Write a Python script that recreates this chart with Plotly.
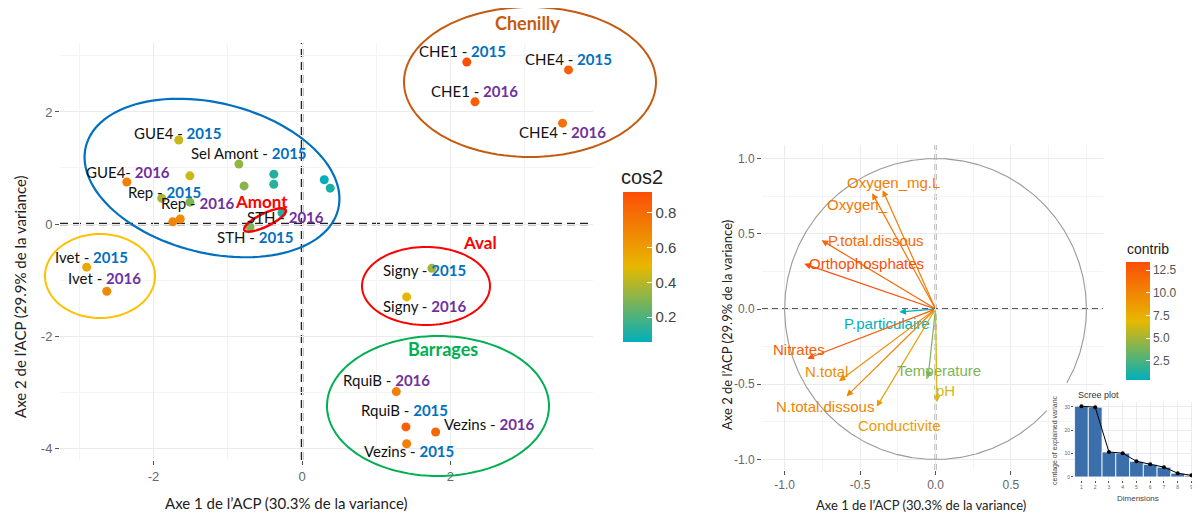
import math
import numpy as np
import plotly.graph_objects as go

W, H = 1200, 514
OFF = 8  # page body margin of the html page

# ---------------- DATA ----------------
# Individuals (left PCA map)
ind_x = [2.22, 3.59, 2.33, 3.51, -1.66, -0.85, -1.51, -2.36, -0.78, -0.38, -0.38, 0.30, 0.38,
         -1.89, -1.51, -1.74, -1.64, -0.27, -0.70, -2.90, -2.63, 1.75, 1.41, 1.27, 1.40, 1.80, 1.41]
ind_y = [2.89, 2.75, 2.18, 1.80, 1.50, 1.07, 0.86, 0.75, 0.68, 0.89, 0.71, 0.79, 0.64,
         0.46, 0.39, 0.04, 0.09, 0.20, -0.05, -0.77, -1.20, -0.79, -1.30, -2.99, -3.62, -3.71, -3.92]
ind_cos2 = [0.92, 0.85, 0.86, 0.78, 0.43, 0.33, 0.44, 0.72, 0.31, 0.12, 0.13, 0.056, 0.10,
            0.37, 0.29, 0.70, 0.68, 0.11, 0.28, 0.55, 0.68, 0.36, 0.50, 0.72, 0.85, 0.82, 0.72]
ind_site = ["CHE1 - ", "CHE4 - ", "CHE1 - ", "CHE4 - ", "GUE4 - ", "Sel Amont - ", "", "GUE4- ", "", "", "", "", "",
            "Rep - ", "Rep - ", "", "", "STH - ", "STH - ", "Ivet - ", "Ivet - ", "Signy - ", "Signy - ",
            "RquiB - ", "RquiB - ", "Vezins - ", "Vezins - "]
ind_year = [2015, 2015, 2016, 2016, 2015, 2015, None, 2016, None, None, None, None, None,
            2015, 2016, None, None, 2016, 2015, 2015, 2016, 2015, 2016, 2016, 2015, 2016, 2015]

# Variables (right correlation circle)
var_names = ["Oxygen_mg.L", "Oxygen_", "P.total.dissous", "Orthophosphates", "P.particulaire", "Nitrates",
             "N.total", "N.total.dissous", "Conductivite", "Temperature", "pH"]
var_x = [-0.35, -0.42, -0.755, -0.87, -0.24, -0.85, -0.64, -0.59, -0.39, -0.05, 0.01]
var_y = [0.79, 0.77, 0.457, 0.30, -0.02, -0.33, -0.48, -0.58, -0.65, -0.46, -0.62]
var_contrib = [10.6, 10.9, 11.8, 13.4, 0.4, 12.6, 9.6, 10.2, 8.6, 3.9, 6.4]

# Scree plot
dims = [1, 2, 3, 4, 5, 6, 7, 8, 9, 10]
explained = [30.3, 29.9, 10.7, 10.2, 6.7, 5.4, 4.2, 1.6, 0.7, 0.3]

# ---------------- STYLE ----------------
YEAR_COL = {2015: "#0070C0", 2016: "#7030A0"}
SCALE = [[0, "#00AFBB"], [0.5, "#E7B800"], [1, "#FC4E07"]]
LABEL_SHIFT = [(-4, 11), (0, 11), (0, 11), (0, -9), (-1, 7), (10, 11), (0, 0), (1, 10), (0, 0), (0, 0),
               (0, 0), (0, 0), (0, 0), (3, 6), (8, -1), (0, 0), (0, 0), (4, -4), (5, -10), (5, 10),
               (-2, 13), (-7, -2), (18, -9), (-10, 12), (-1, 17), (54, 8), (2, -7)]
VAR_SHIFT = [(11, 8), (-15, -11), (54, 0), (62, 0), (-12, -11), (-8, 9), (-12, 10), (-22, -10),
             (23, -19), (11, 8), (8, 12)]

GRID = "#EBEBEB"
GRID_MINOR = "#F4F4F4"
TICKC = "#666666"


def px(x):
    return (x - OFF) / W


def py(y):
    return 1 - (y - OFF) / H


def grad(v, vmin, vmax):
    t = (v - vmin) / (vmax - vmin)
    stops = [(0, (0, 175, 187)), (0.5, (231, 184, 0)), (1, (252, 78, 7))]
    for (t0, c0), (t1, c1) in zip(stops[:-1], stops[1:]):
        if t <= t1:
            f = (t - t0) / (t1 - t0)
            c = [round(a + (b - a) * f) for a, b in zip(c0, c1)]
            return "rgb(%d,%d,%d)" % tuple(c)
    return "rgb(252,78,7)"


def ellipse_path(cx, cy, a, b, deg, n=120):
    th = math.radians(deg)
    pts = []
    for i in range(n + 1):
        t = 2 * math.pi * i / n
        ex, ey = a * math.cos(t), b * math.sin(t)
        X = cx + ex * math.cos(th) - ey * math.sin(th)
        Y = cy + ex * math.sin(th) + ey * math.cos(th)
        pts.append((px(X), py(Y)))
    return "M " + " L ".join("%.5f,%.5f" % p for p in pts) + " Z"


def paper_text(x, y, text, size, color="#222", family="Lato", angle=0, xanchor="center"):
    return dict(x=px(x), y=py(y), xref="paper", yref="paper", showarrow=False, text=text,
                xanchor=xanchor, yanchor="middle", textangle=angle,
                font=dict(family=family, size=size, color=color))


fig = go.Figure()

# ---------- left: individuals ----------
cmin, cmax = min(ind_cos2), max(ind_cos2)
fig.add_trace(go.Scatter(
    x=ind_x, y=ind_y, mode="markers", xaxis="x", yaxis="y",
    marker=dict(size=9, color=ind_cos2, colorscale=SCALE, cmin=cmin, cmax=cmax,
                line=dict(width=0),
                colorbar=dict(x=px(623), xanchor="left", xpad=0, y=py(192), yanchor="top", ypad=0,
                              len=150, lenmode="pixels", thickness=29, thicknessmode="pixels",
                              outlinewidth=0, tickvals=[0.2, 0.4, 0.6, 0.8],
                              ticktext=["0.2", "0.4", "0.6", "0.8"], ticks="inside", ticklen=5,
                              tickcolor="white", tickwidth=1,
                              tickfont=dict(family="Liberation Sans", size=15, color="#444"))),
    showlegend=False, hoverinfo="skip"))

# ---------- right: correlation circle ----------
theta = np.linspace(0, 2 * np.pi, 721)
cxl, cyl = [], []
for a, b in zip(np.cos(theta), np.sin(theta)):
    pxx = 936 + a * 151
    pyy = 309 - b * 151
    if pxx > 1048 and pyy > 384:
        cxl.append(None)
        cyl.append(None)
    else:
        cxl.append(a)
        cyl.append(b)
fig.add_trace(go.Scatter(x=cxl, y=cyl, mode="lines", xaxis="x2", yaxis="y2",
                         line=dict(color="#9A9A9A", width=1.1), showlegend=False, hoverinfo="skip"))

vmin, vmax = min(var_contrib), max(var_contrib)
fig.add_trace(go.Scatter(
    x=var_x, y=var_y, mode="markers", xaxis="x2", yaxis="y2",
    marker=dict(size=0.1, color=var_contrib, colorscale=SCALE, cmin=vmin, cmax=vmax,
                colorbar=dict(x=px(1126), xanchor="left", xpad=0, y=py(262), yanchor="top", ypad=0,
                              len=118, lenmode="pixels", thickness=24, thicknessmode="pixels",
                              outlinewidth=0, tickvals=[2.5, 5, 7.5, 10, 12.5],
                              ticktext=["2.5", "5.0", "7.5", "10.0", "12.5"], ticks="inside", ticklen=4,
                              tickcolor="white", tickwidth=1,
                              tickfont=dict(family="Liberation Sans", size=12, color="#555"))),
    showlegend=False, hoverinfo="skip"))

# ---------- scree plot ----------
fig.add_trace(go.Bar(x=dims, y=explained, xaxis="x3", yaxis="y3", width=1,
                     marker=dict(color="#3B6FAB", line=dict(color="white", width=0.8)),
                     showlegend=False, hoverinfo="skip"))
fig.add_trace(go.Scatter(x=dims, y=explained, xaxis="x3", yaxis="y3", mode="lines+markers",
                         line=dict(color="black", width=1), marker=dict(color="black", size=4),
                         showlegend=False, hoverinfo="skip"))

annotations = []
shapes = []

# labels of individuals
for i in range(len(ind_x)):
    if not ind_site[i]:
        continue
    col = YEAR_COL[ind_year[i]]
    txt = "%s<b><span style='color:%s'>%d</span></b>" % (ind_site[i], col, ind_year[i])
    dx, dy = LABEL_SHIFT[i]
    annotations.append(dict(x=ind_x[i], y=ind_y[i], xref="x", yref="y", text=txt, showarrow=False,
                            xanchor="center", yanchor="middle",
                            xshift=dx, yshift=dy, font=dict(family="Lato", size=15, color="#111")))

# arrows + variable labels
for i in range(len(var_names)):
    col = grad(var_contrib[i], vmin, vmax)
    annotations.append(dict(x=var_x[i], y=var_y[i], xref="x2", yref="y2", ax=0, ay=0,
                            axref="x2", ayref="y2", text="", showarrow=True, arrowhead=2,
                            arrowsize=1.1, arrowwidth=1.2, arrowcolor=col, standoff=0))
    dx, dy = VAR_SHIFT[i]
    annotations.append(dict(x=var_x[i], y=var_y[i], xref="x2", yref="y2", text=var_names[i],
                            showarrow=False, xshift=dx, yshift=dy, xanchor="center", yanchor="middle",
                            font=dict(family="Liberation Sans", size=15, color=col)))

# group labels
for txt, x, y, col, size in [("Chenilly", 527, 23, "#C55A11", 18), ("Amont", 261, 201, "#FF0000", 17),
                              ("Aval", 480, 243, "#FF0000", 17), ("Barrages", 443, 349, "#00B050", 18)]:
    annotations.append(paper_text(x, y, "<b>%s</b>" % txt, size, col))

# axis titles and legend titles
annotations += [
    paper_text(286, 503, "Axe 1 de l’ACP (30.3% de la variance)", 15),
    paper_text(20, 297, "Axe 2 de l’ACP (29.9% de la variance)", 15, angle=-90),
    paper_text(921, 505, "Axe 1 de l’ACP (30.3% de la variance)", 13),
    paper_text(727, 325, "Axe 2 de l’ACP (29.9% de la variance)", 13, angle=-90),
    paper_text(642, 177, "cos2", 20, family="Liberation Sans"),
    paper_text(1148, 249, "contrib", 14, family="Liberation Sans"),
    paper_text(1076, 395, "Scree plot", 9, "#333", "Liberation Sans", xanchor="left"),
    paper_text(1138, 498, "Dimensions", 8, "#444", "Liberation Sans"),
    paper_text(1055, 440, "centage of explained varianc", 7, "#444", "Liberation Sans", angle=-90),
]

# ellipses
shapes += [
    dict(type="path", xref="paper", yref="paper", path=ellipse_path(530, 82, 126, 75, 0),
         line=dict(color="#C55A11", width=2)),
    dict(type="path", xref="paper", yref="paper", path=ellipse_path(212, 178, 130, 75, 14),
         line=dict(color="#0070C0", width=2.2)),
    dict(type="path", xref="paper", yref="paper", path=ellipse_path(265, 220, 23, 6.5, -26),
         line=dict(color="#FF0000", width=2.5)),
    dict(type="path", xref="paper", yref="paper", path=ellipse_path(100, 276, 55, 42, 0),
         line=dict(color="#FFC000", width=2)),
    dict(type="path", xref="paper", yref="paper", path=ellipse_path(426, 286, 64, 39, 0),
         line=dict(color="#FF0000", width=2)),
    dict(type="path", xref="paper", yref="paper", path=ellipse_path(438, 406, 111, 70, 0),
         line=dict(color="#00B050", width=2)),
]

# dashed zero lines
shapes += [
    dict(type="line", xref="x", yref="y domain", x0=0, x1=0, y0=0, y1=1, layer="below",
         line=dict(color="#222", width=2.5, dash="8px,5px")),
    dict(type="line", xref="x domain", yref="y", x0=0, x1=1, y0=0, y1=0, layer="below",
         line=dict(color="#222", width=2.5, dash="8px,5px")),
    dict(type="line", xref="x2", yref="y2 domain", x0=0, x1=0, y0=0, y1=1, layer="below",
         line=dict(color="#222", width=1.5, dash="6px,4px")),
    dict(type="line", xref="x2 domain", yref="y2", x0=0, x1=1, y0=0, y1=0, layer="below",
         line=dict(color="#222", width=1.5, dash="6px,4px")),
]


def axis(domain, rng, tickvals, ticktext, anchor, minor_dtick, fsize, gw=1.3, tlen=4, minor=True):
    d = dict(domain=domain, range=rng, tickvals=tickvals, ticktext=ticktext, anchor=anchor,
             showgrid=True, gridcolor=GRID, gridwidth=gw, zeroline=False, showline=False,
             ticks="outside", ticklen=tlen, tickcolor="#555", tickwidth=1.2 if tlen > 2 else 0.6,
             tickfont=dict(family="Liberation Sans", size=fsize, color=TICKC),
             fixedrange=True, automargin=False)
    if minor:
        d["minor"] = dict(dtick=minor_dtick, showgrid=True, gridcolor=GRID_MINOR, gridwidth=gw * 0.7, ticks="")
    return d


fig.update_layout(
    width=W, height=H, margin=dict(l=0, r=0, t=0, b=0),
    paper_bgcolor="white", plot_bgcolor="white",
    xaxis=axis([px(60), px(593)], [-3.26, 3.92], [-2, 0, 2], ["-2", "0", "2"], "y", 1, 13),
    yaxis=axis([py(460), py(43)], [-4.21, 3.23], [-4, -2, 0, 2], ["-4", "-2", "0", "2"], "x", 1, 13),
    xaxis2=axis([px(762), px(1103)], [-1.15, 1.11], [-1, -0.5, 0, 0.5], ["-1.0", "-0.5", "0.0", "0.5"],
                "y2", 0.25, 12, gw=1),
    yaxis2=axis([py(470), py(145)], [-1.07, 1.09], [-1, -0.5, 0, 0.5, 1],
                ["-1.0", "-0.5", "0.0", "0.5", "1.0"], "x2", 0.25, 12, gw=1),
    xaxis3=axis([px(1074), px(1208)], [0.46, 10.2], dims, [str(d) for d in dims], "y3", 0.5, 5,
                gw=0.6, tlen=2, minor=False),
    yaxis3=axis([py(480), py(402)], [-1.3, 32.1], [0, 10, 20, 30], ["0", "10", "20", "30"], "x3", 5, 5,
                gw=0.6, tlen=2),
    annotations=annotations, shapes=shapes,
)

fig.write_html("out.html")
